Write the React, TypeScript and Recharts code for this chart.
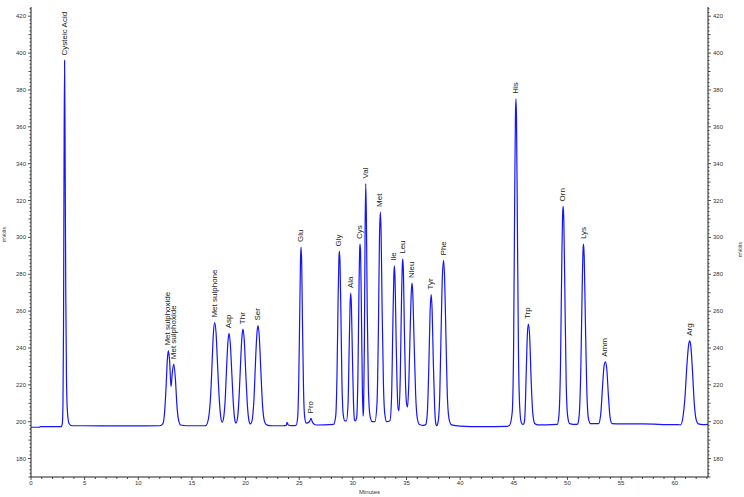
import React from 'react';
import { ComposedChart, Line, Scatter, XAxis, YAxis } from 'recharts';

// chromatogram trace: [minutes, mVolts]
const tracePoints: [number, number][] = [
  [0, 197.0], [0.8, 197.0], [0.85, 197.3], [2.0, 197.3], [2.8, 197.3],
  // Cysteic Acid
  [2.92, 199], [2.98, 210], [3.03, 250], [3.08, 340], [3.13, 396], [3.18, 345], [3.24, 270],
  [3.31, 222], [3.4, 205], [3.55, 199], [3.8, 197.8], [5, 197.8], [8, 197.7], [10, 197.7], [12.0, 197.8],
  // Met sulphoxide pair
  [12.3, 199], [12.45, 205], [12.6, 220], [12.7, 233], [12.8, 238.6], [12.92, 233], [13.05, 219],
  [13.18, 227], [13.3, 231.2], [13.45, 224], [13.6, 209], [13.75, 201], [13.95, 198.2], [14.5, 197.8],
  [16.0, 197.8], [16.3, 197.9],
  // Met sulphone
  [16.55, 202], [16.75, 215], [16.9, 235], [17.0, 248], [17.12, 253.8], [17.25, 248], [17.38, 232],
  [17.55, 212], [17.7, 202], [17.82, 199.7],
  // Asp
  [17.95, 202], [18.1, 212], [18.25, 232], [18.35, 243], [18.46, 248], [18.58, 242], [18.72, 226],
  [18.88, 208], [19.0, 201], [19.1, 199.2],
  // Thr
  [19.25, 202], [19.4, 214], [19.55, 234], [19.66, 246], [19.76, 250.2], [19.88, 244], [20.02, 226],
  [20.18, 208], [20.32, 200.5], [20.44, 198.8],
  // Ser
  [20.6, 200.5], [20.78, 212], [20.95, 236], [21.06, 248], [21.16, 252.2], [21.28, 246], [21.42, 228],
  [21.58, 209], [21.75, 200.5], [21.95, 198.3], [22.5, 197.8],
  [23.5, 197.8], [23.78, 198], [23.87, 199.7], [23.97, 198.2], [24.3, 197.9],
  // Glu, Pro
  [24.7, 198], [24.85, 202], [24.95, 220], [25.05, 260], [25.12, 288], [25.17, 294.8], [25.23, 286],
  [25.3, 255], [25.4, 218], [25.5, 203], [25.65, 199.2], [25.95, 200], [26.1, 201.8], [26.25, 199.5],
  [26.6, 198.2],
  // Gly
  [28.2, 198.5], [28.4, 203], [28.52, 225], [28.62, 265], [28.7, 289], [28.74, 292.4], [28.8, 287],
  [28.88, 260], [28.98, 222], [29.1, 204], [29.25, 200.5],
  // Ala
  [29.4, 200.5], [29.55, 210], [29.65, 238], [29.74, 264], [29.8, 269.8], [29.86, 264], [29.95, 238],
  [30.05, 212], [30.15, 201], [30.22, 200.5],
  // Cys
  [30.35, 202], [30.47, 225], [30.57, 272], [30.64, 294], [30.67, 296.4], [30.72, 292], [30.8, 258],
  [30.88, 220], [30.95, 203],
  // Val
  [31.0, 207], [31.07, 240], [31.14, 305], [31.2, 329.2], [31.26, 310], [31.34, 260], [31.45, 218],
  [31.6, 203], [31.8, 200],
  // Met
  [32.05, 200], [32.25, 210], [32.38, 250], [32.48, 300], [32.56, 313.8], [32.63, 303], [32.73, 260],
  [32.85, 220], [32.98, 204], [33.15, 200],
  // Ile
  [33.45, 200.5], [33.6, 212], [33.72, 250], [33.82, 280], [33.87, 284.6], [33.93, 278], [34.03, 245],
  [34.12, 220], [34.22, 207],
  // Leu
  [34.3, 206], [34.42, 225], [34.53, 265], [34.61, 285], [34.65, 288.4], [34.71, 282], [34.8, 250],
  [34.9, 222], [35.0, 210],
  // Nleu
  [35.1, 208], [35.22, 222], [35.35, 252], [35.46, 272], [35.52, 275.2], [35.58, 270], [35.7, 245],
  [35.85, 215], [36.0, 202], [36.2, 198.5], [36.6, 198],
  // Tyr
  [36.8, 198.5], [36.95, 206], [37.08, 230], [37.2, 260], [37.3, 269], [37.39, 260], [37.5, 232],
  [37.62, 208], [37.75, 198.5], [37.82, 197.8],
  // Phe
  [37.95, 200], [38.1, 215], [38.22, 248], [38.35, 280], [38.46, 287.5], [38.55, 278], [38.68, 245],
  [38.82, 212], [38.98, 201], [39.2, 198.3], [40, 197.6], [42, 197.3], [44.4, 197.5],
  // His
  [44.6, 198], [44.85, 205], [44.98, 240], [45.08, 320], [45.15, 365], [45.2, 375.2], [45.25, 365],
  [45.33, 310], [45.43, 240], [45.55, 208], [45.7, 199.5], [45.85, 198.5],
  // Trp
  [45.95, 199], [46.05, 205], [46.15, 225], [46.27, 248], [46.36, 253], [46.48, 246], [46.62, 222],
  [46.78, 204], [46.95, 199], [47.2, 198.3], [48, 198.3],
  // Orn
  [49.05, 198.5], [49.2, 203], [49.35, 230], [49.48, 290], [49.56, 314], [49.6, 316.8], [49.66, 310],
  [49.76, 270], [49.88, 222], [50.02, 203], [50.2, 199], [50.8, 198.5],
  // Lys
  [50.95, 198.8], [51.1, 204], [51.25, 230], [51.38, 275], [51.46, 294], [51.5, 296.4], [51.56, 290],
  [51.67, 255], [51.8, 218], [51.95, 202], [52.15, 199],
  // Amm
  [52.9, 199], [53.1, 204], [53.28, 220], [53.42, 230.5], [53.54, 232.5], [53.66, 229], [53.82, 214],
  [53.98, 202], [54.15, 199], [55, 198.8], [57, 198.8], [60, 198.4], [60.3, 198.4],
  // Arg
  [60.55, 198.3], [60.75, 202], [60.95, 213], [61.15, 232], [61.3, 242], [61.4, 243.9], [61.5, 241],
  [61.65, 228], [61.82, 210], [62.0, 201], [62.2, 198.8], [62.6, 198.4], [63.1, 198.5],
];

const peakNames = [
  'Cysteic Acid', 'Met sulphoxide', 'Met sulphoxide', 'Met sulphone', 'Asp', 'Thr', 'Ser', 'Glu', 'Pro',
  'Gly', 'Ala', 'Cys', 'Val', 'Met', 'Ile', 'Leu', 'Nleu', 'Tyr', 'Phe', 'His', 'Trp', 'Orn', 'Lys', 'Amm', 'Arg',
];
const peakTimes = [
  3.13, 12.8, 13.3, 17.12, 18.46, 19.76, 21.16, 25.17, 26.1,
  28.74, 29.8, 30.67, 31.2, 32.56, 33.87, 34.65, 35.52, 37.3, 38.46, 45.2, 46.36, 49.6, 51.5, 53.54, 61.4,
];
const peakHeights = [
  396, 238.6, 231.2, 253.8, 248, 250.2, 252.2, 294.8, 201.8,
  292.4, 269.8, 296.4, 329.2, 313.8, 284.6, 288.4, 275.2, 269, 287.5, 375.2, 253, 316.8, 296.4, 232.5, 243.9,
];

const yMajorTicks = [180, 200, 220, 240, 260, 280, 300, 320, 340, 360, 380, 400, 420];
const xMajorTicks = [0, 5, 10, 15, 20, 25, 30, 35, 40, 45, 50, 55, 60];

const yTicks: number[] = [];
for (let v = 170; v <= 424; v += 2) yTicks.push(v);
const xTicks: number[] = [];
for (let m = 0; m <= 63; m += 1) xTicks.push(m);

const trace = tracePoints.map(([t, v]) => ({ t, v }));
const peaks = peakNames.map((name, i) => ({ name, t: peakTimes[i], v: peakHeights[i] }));

const FONT = '"Liberation Sans", Arial, sans-serif';

const LeftTick = (props: any) => {
  const { x, y, payload } = props;
  const major = yMajorTicks.includes(payload.value);
  const len = major ? 3 : payload.value % 10 === 0 ? 2.5 : 1.5;
  return (
    <g>
      <line x1={x - len} x2={x} y1={y} y2={y} stroke="#222" strokeWidth={0.8} />
      {major && (
        <text x={x - 5} y={y} textAnchor="end" dominantBaseline="central" fontSize={6} fill="#333" fontFamily={FONT}>
          {payload.value}
        </text>
      )}
    </g>
  );
};

const RightTick = (props: any) => {
  const { x, y, payload } = props;
  const major = yMajorTicks.includes(payload.value);
  const len = major ? 3 : payload.value % 10 === 0 ? 2.5 : 1.5;
  return (
    <g>
      <line x1={x} x2={x + len} y1={y} y2={y} stroke="#222" strokeWidth={0.8} />
      {major && (
        <text x={x + 5} y={y} textAnchor="start" dominantBaseline="central" fontSize={6} fill="#333" fontFamily={FONT}>
          {payload.value}
        </text>
      )}
    </g>
  );
};

const BottomTick = (props: any) => {
  const { x, y, payload } = props;
  const major = xMajorTicks.includes(payload.value);
  return (
    <g>
      <line x1={x} x2={x} y1={y} y2={y + (major ? 3 : 2)} stroke="#222" strokeWidth={0.8} />
      {major && (
        <text x={x} y={y + 6} textAnchor="middle" dominantBaseline="central" fontSize={6} fill="#333" fontFamily={FONT}>
          {payload.value}
        </text>
      )}
    </g>
  );
};

const PeakLabel = (props: any) => {
  const { cx, cy, payload } = props;
  if (cx == null || cy == null) return <g />;
  const x = cx - 0.5;
  const y = cy - 5;
  return (
    <text
      x={x}
      y={y}
      transform={`rotate(-90 ${x} ${y})`}
      textAnchor="start"
      dominantBaseline="central"
      fontSize={8}
      fill="#222"
      fontFamily={FONT}
    >
      {payload.name}
    </text>
  );
};

export default function App() {
  return (
    <div style={{ position: 'absolute', left: 0, top: 0, width: 744, height: 497, background: '#fff' }}>
      <ComposedChart width={744} height={497} margin={{ top: 7, right: 0, bottom: 0, left: 0 }}>
        <XAxis
          xAxisId="b"
          dataKey="t"
          type="number"
          domain={[0, 63.1]}
          allowDataOverflow
          ticks={xTicks}
          interval={0}
          tickSize={0}
          tickMargin={0}
          tick={<BottomTick />}
          height={20}
          axisLine={{ stroke: '#222', strokeWidth: 1 }}
          label={{ value: 'Minutes', position: 'insideBottom', offset: 3, fontSize: 6, fill: '#333', fontFamily: FONT }}
        />
        <XAxis
          xAxisId="t"
          dataKey="t"
          type="number"
          orientation="top"
          domain={[0, 63.1]}
          allowDataOverflow
          height={0}
          tick={false}
          tickLine={false}
          axisLine={{ stroke: '#222', strokeWidth: 1 }}
        />
        <YAxis
          yAxisId="left"
          type="number"
          domain={[170, 425]}
          allowDataOverflow
          ticks={yTicks}
          interval={0}
          width={31}
          tickSize={0}
          tickMargin={0}
          tick={<LeftTick />}
          axisLine={{ stroke: '#222', strokeWidth: 1 }}
          label={{ value: 'mVolts', angle: -90, position: 'insideLeft', offset: 4, fontSize: 5, fill: '#333', fontFamily: FONT }}
        />
        <YAxis
          yAxisId="right"
          orientation="right"
          type="number"
          domain={[170, 425]}
          allowDataOverflow
          ticks={yTicks}
          interval={0}
          width={36}
          tickSize={0}
          tickMargin={0}
          tick={<RightTick />}
          axisLine={{ stroke: '#222', strokeWidth: 1 }}
          label={{ value: 'mVolts', angle: -90, position: 'insideRight', offset: 4, fontSize: 5, fill: '#333', fontFamily: FONT }}
        />
        <Line
          xAxisId="b"
          yAxisId="left"
          data={trace}
          dataKey="v"
          type="monotone"
          stroke="#1414ff"
          strokeWidth={1.2}
          dot={false}
          activeDot={false}
          isAnimationActive={false}
        />
        <Scatter
          xAxisId="b"
          yAxisId="left"
          data={peaks}
          dataKey="v"
          shape={<PeakLabel />}
          isAnimationActive={false}
        />
      </ComposedChart>
    </div>
  );
}
